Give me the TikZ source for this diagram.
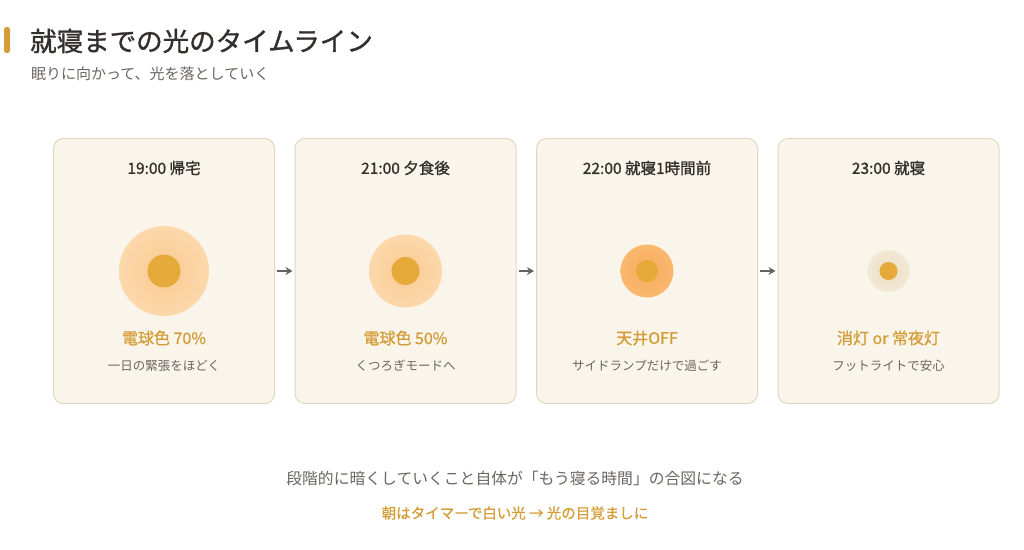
\documentclass[tikz,border=0pt]{standalone}
\usepackage{fontspec}
\setmainfont{Noto Sans CJK JP}
\newfontfamily\jpmedium[FakeBold=1.2]{Noto Sans CJK JP}
\newfontfamily\jplabel[FakeBold=0.8]{Noto Sans CJK JP}
\usetikzlibrary{positioning, arrows.meta}

\definecolor{accent}{RGB}{212,156,54}
\definecolor{ink}{RGB}{51,47,44}
\definecolor{muted}{RGB}{105,101,97}
\definecolor{cardbg}{RGB}{250,245,234}
\definecolor{cardline}{RGB}{226,214,190}
\definecolor{arrowgray}{RGB}{100,98,96}
\definecolor{bulb}{RGB}{230,170,58}
\definecolor{glowAin}{RGB}{250,202,144}
\definecolor{glowAout}{RGB}{252,216,172}
\definecolor{glowCin}{RGB}{248,172,92}
\definecolor{glowCout}{RGB}{250,184,112}
\definecolor{glowDin}{RGB}{236,222,194}
\definecolor{glowDout}{RGB}{242,232,212}

\begin{document}
\begin{tikzpicture}[
    x=1pt, y=-1pt,
    node distance=19.5pt,
    card/.style={draw=cardline, line width=1pt, fill=cardbg, rounded corners=10pt,
        minimum width=221pt, minimum height=265pt, inner sep=0pt},
    cardtitle/.style={font=\fontsize{15.5}{18}\jpmedium, text=ink},
    lightlabel/.style={font=\fontsize{16}{19}\jplabel, text=accent},
    note/.style={font=\fontsize{12.5}{15}\selectfont, text=muted},
    glow/.style={circle, inner sep=0pt},
    core/.style={circle, fill=bulb, inner sep=0pt},
    flow/.style={-{Stealth[length=7pt,width=8pt]}, line width=1.8pt, draw=arrowgray,
        shorten <=2pt, shorten >=2pt}
]
\useasboundingbox (0,0) rectangle (1024,549);

% Heading
\fill[accent, rounded corners=2.5pt] (4,27) rectangle (10,53);
\node[anchor=west, inner sep=0pt, text=ink, font=\fontsize{26.5}{30}\jpmedium] (title) at (30,41) {就寝までの光のタイムライン};
\node[anchor=west, inner sep=0pt, text=muted, font=\fontsize{15}{18}\selectfont] (subtitle) at (31,74) {眠りに向かって、光を落としていく};

% Cards
\node[card] (card1) at (164,271) {};
\node[card, right=of card1] (card2) {};
\node[card, right=of card2] (card3) {};
\node[card, right=of card3] (card4) {};

% Card titles
\node[cardtitle] (t1) at ([yshift=-30pt]card1.north) {19:00 帰宅};
\node[cardtitle] (t2) at ([yshift=-30pt]card2.north) {21:00 夕食後};
\node[cardtitle] (t3) at ([yshift=-30pt]card3.north) {22:00 就寝1時間前};
\node[cardtitle] (t4) at ([yshift=-30pt]card4.north) {23:00 就寝};

% Light glows
\node[glow, minimum size=90pt, inner color=glowAin, outer color=glowAout] (g1) at (card1.center) {};
\node[core, minimum size=33pt] (c1) at (g1) {};
\node[glow, minimum size=73pt, inner color=glowAin, outer color=glowAout] (g2) at (card2.center) {};
\node[core, minimum size=28pt] (c2) at (g2) {};
\node[glow, minimum size=53pt, inner color=glowCin, outer color=glowCout] (g3) at (card3.center) {};
\node[core, minimum size=22pt] (c3) at (g3) {};
\node[glow, minimum size=42pt, inner color=glowDin, outer color=glowDout] (g4) at (card4.center) {};
\node[core, minimum size=18pt] (c4) at (g4) {};

% Light levels
\node[lightlabel] (l1) at ([yshift=-67pt]card1.center) {電球色 70\%};
\node[lightlabel] (l2) at ([yshift=-67pt]card2.center) {電球色 50\%};
\node[lightlabel] (l3) at ([yshift=-67pt]card3.center) {天井OFF};
\node[lightlabel] (l4) at ([yshift=-67pt]card4.center) {消灯 or 常夜灯};

% Notes
\node[note] (n1) at ([yshift=-95pt]card1.center) {一日の緊張をほどく};
\node[note] (n2) at ([yshift=-95pt]card2.center) {くつろぎモードへ};
\node[note] (n3) at ([yshift=-95pt]card3.center) {サイドランプだけで過ごす};
\node[note] (n4) at ([yshift=-95pt]card4.center) {フットライトで安心};

% Arrows
\draw[flow] (card1.east) -- (card2.west);
\draw[flow] (card2.east) -- (card3.west);
\draw[flow] (card3.east) -- (card4.west);

% Footer
\node[text=muted, font=\fontsize{15.8}{19}\selectfont] (summary) at (515,478) {段階的に暗くしていくこと自体が「もう寝る時間」の合図になる};
\node[text=accent, font=\fontsize{14.5}{17}\jplabel] (tip) at (515,513) {朝はタイマーで白い光 → 光の目覚ましに};

\end{tikzpicture}
\end{document}
